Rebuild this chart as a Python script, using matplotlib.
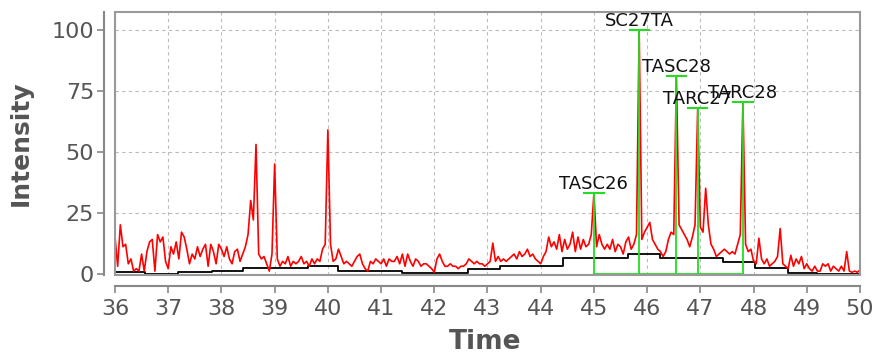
import numpy as np
import matplotlib
matplotlib.use('Agg')
import matplotlib.pyplot as plt
from matplotlib.patches import Rectangle

# chromatogram sampled every 0.05 min from 36 to 50
t_start, t_step = 36.0, 0.05
intensity = [
    # 36
    15, 3, 20, 11, 12, 4, 6, 1, 2, 1, 8, 1, 9, 13, 14, 1, 16, 13, 15, 5,
    # 37
    2, 11, 8, 13, 6, 17, 15, 10, 4, 8, 6, 11, 7, 10, 12, 3, 12, 9, 4, 12,
    # 38
    10, 7, 11, 6, 4, 9, 10, 5, 8, 11, 16, 30, 22, 53, 8, 6, 7, 4, 1, 8,
    # 39
    45, 6, 3, 5, 4, 7, 3, 5, 4, 5, 7, 4, 5, 3, 6, 4, 6, 5, 10, 12,
    # 40
    59, 12, 5, 6, 10, 7, 4, 5, 4, 3, 5, 7, 8, 4, 2, 1, 5, 4, 6, 5,
    # 41
    4, 6, 3, 6, 5, 5, 7, 4, 8, 3, 8, 5, 3, 6, 5, 3, 4, 4, 3, 2,
    # 42
    0.5, 6, 8, 5, 3, 3, 4, 3, 3, 2, 3, 3, 4, 6, 5, 4, 5, 4, 4, 3,
    # 43
    4, 5, 12.5, 5, 7, 5, 6, 5, 6, 7, 8, 6, 9, 7, 8, 10, 7, 8, 6, 5,
    # 44
    4, 7, 9, 15, 11, 13, 10, 16, 9, 14, 10, 12, 17, 9, 15, 10, 14, 11, 12, 16,
    # 45
    33, 11, 16, 12, 10, 12, 10, 14, 9, 12, 11, 8, 13, 15, 10, 12, 16, 100, 14, 17,
    # 46
    19, 21, 14, 12, 10, 9, 7, 9, 14, 17, 16, 81, 20, 18, 16, 14, 11, 15, 20, 68,
    # 47
    19, 17, 35, 20, 12, 10, 7, 8, 9, 10, 9, 8, 9, 8, 12, 16, 70.5, 12, 9, 10,
    # 48
    5, 4, 14.5, 6, 4, 6, 3, 4, 5, 7, 18.5, 4, 3, 2, 7.5, 3, 6, 4, 7, 2,
    # 49
    4, 2, 1, 3, 1, 1, 4, 3, 4, 1, 3, 2, 1, 3, 1, 9, 1, 0.5, 1, 0.5,
    # 50
    1.5,
]
time = t_start + t_step * np.arange(len(intensity))

# stepped baseline under the trace
base_edges = [36.0, 36.56, 37.18, 37.82, 38.4, 39.63, 40.19, 41.4, 42.64,
              43.24, 44.42, 45.64, 46.24, 47.43, 48.03, 48.65, 49.2, 50.0]
base_levels = [0.5, 0.0, 0.5, 1.2, 2.2, 3.0, 1.0, 0.3, 1.8,
               3.0, 6.2, 8.0, 6.2, 4.8, 2.1, 0.3, 0.0]

# identified peaks
peak_names = ['TASC26', 'SC27TA', 'TASC28', 'TARC27', 'TARC28']
peak_times = [45.0, 45.85, 46.55, 46.95, 47.8]
peak_heights = [33, 100, 81, 68, 70.5]

xticks = list(range(36, 51))
yticks = [0, 25, 50, 75, 100]

txt = '#555555'
fig = plt.figure(figsize=(8.75, 3.56), dpi=100)
ax = fig.add_axes([115/875, 1-275/356, 745/875, 263/356])

ax.plot(time, intensity, color='red', lw=1.2, zorder=3)
ax.step(base_edges, base_levels + [base_levels[-1]], where='post',
        color='black', lw=1.3, zorder=2)

green = '#22dd22'
ax.plot([peak_times[0], peak_times[-1]], [0, 0], color=green, lw=1.3, zorder=4)
for name, pt, ph in zip(peak_names, peak_times, peak_heights):
    ax.plot([pt, pt], [0, ph], color=green, lw=1.3, zorder=4)
    ax.plot([pt - 0.18, pt + 0.18], [ph, ph], color=green, lw=1.5, zorder=4)
    ax.text(pt, ph, name, ha='center', va='bottom', fontsize=13, color='#111111', zorder=5)

ax.set_xlim(36, 50)
ax.set_ylim(-0.6, 107.4)
ax.set_xticks(xticks)
ax.set_yticks(yticks)
ax.grid(True, color='#bbbbbb', ls=(0, (3, 3)), lw=0.8)
ax.set_axisbelow(True)

for s in ['top', 'right']:
    ax.spines[s].set_visible(False)
ax.spines['left'].set_position(('outward', 8))
ax.spines['bottom'].set_position(('outward', 8))
for s in ['left', 'bottom']:
    ax.spines[s].set_color('#888888')
    ax.spines[s].set_linewidth(1.5)
ax.add_patch(Rectangle((0, 0), 1, 1, transform=ax.transAxes, fill=False,
                       ec='#999999', lw=1.5, clip_on=False, zorder=6))

ax.tick_params(axis='both', colors='#888888', labelcolor=txt, labelsize=16,
               length=5, width=1.2)
ax.tick_params(axis='y', pad=2)
ax.tick_params(axis='x', pad=4)

ax.set_xlabel('Time', fontsize=19, fontweight='bold', color=txt)
ax.set_ylabel('Intensity', fontsize=18, fontweight='bold', color=txt)
ax.xaxis.set_label_coords(0.497, -0.205)
ax.yaxis.set_label_coords(-0.110, 0.5)

fig.savefig('out.png', dpi=100)
